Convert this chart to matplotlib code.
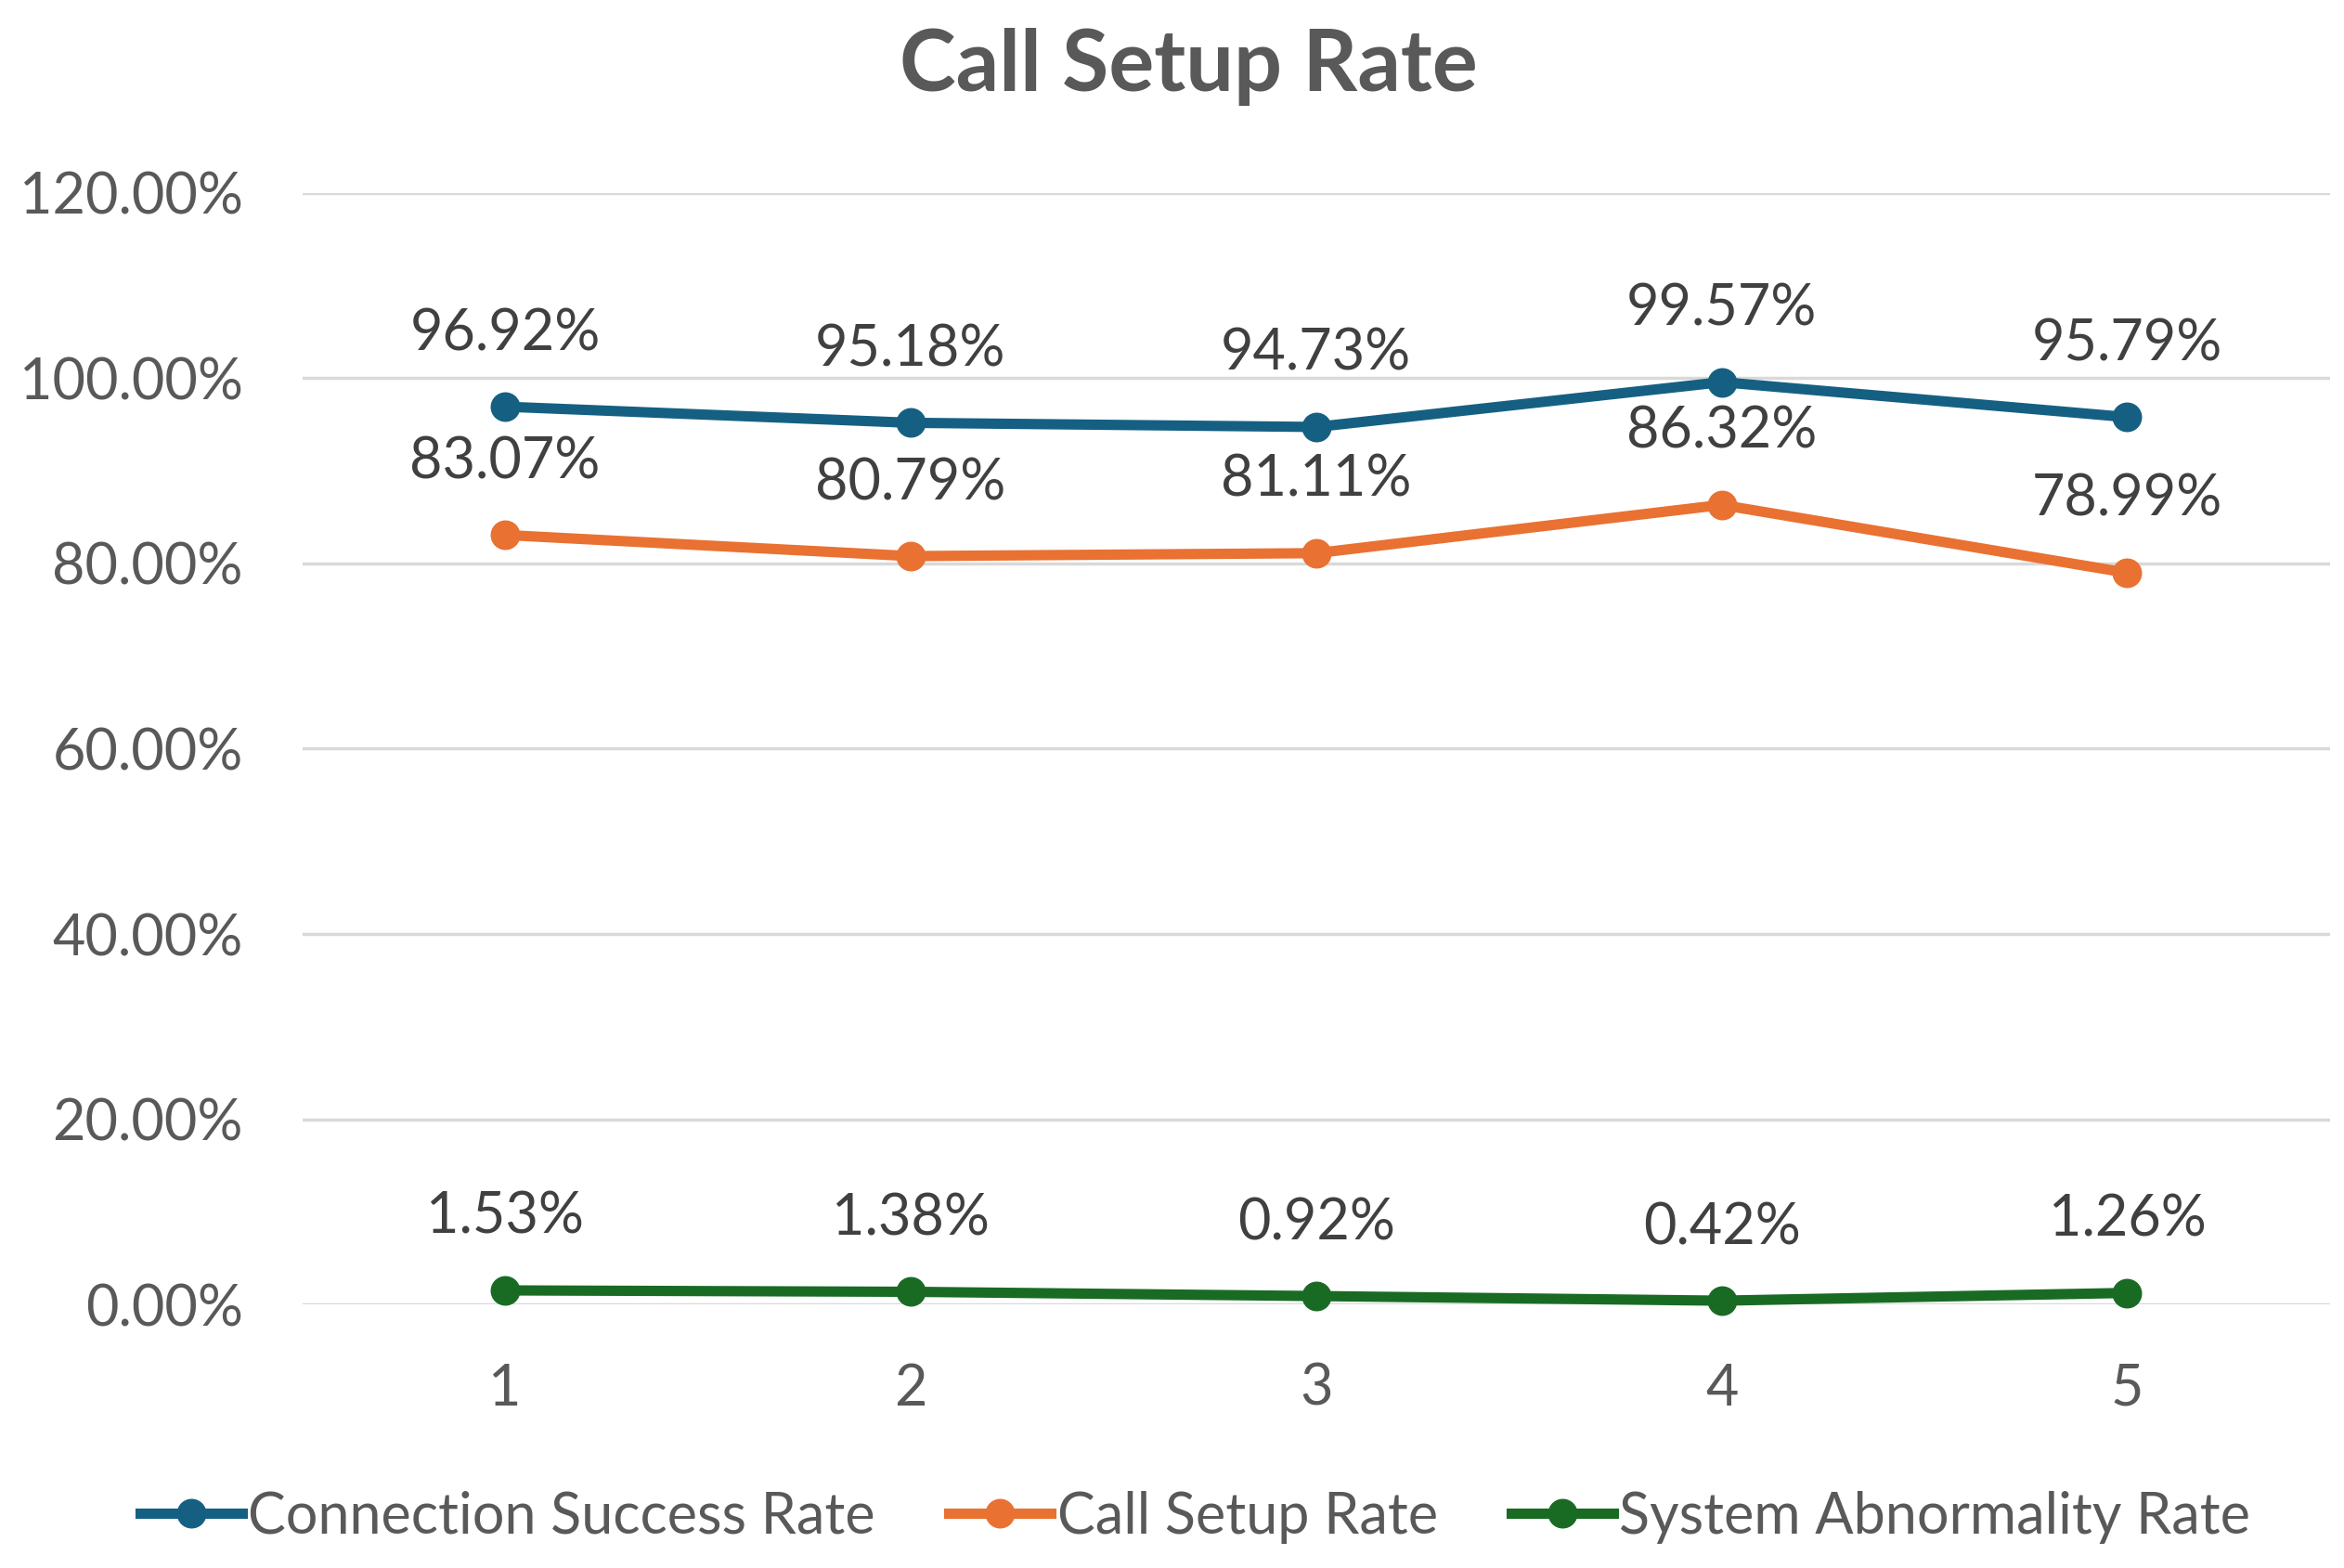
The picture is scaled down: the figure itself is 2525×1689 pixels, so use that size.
import numpy as np
import matplotlib.pyplot as plt
from matplotlib.ticker import PercentFormatter

plt.rcParams['font.family'] = ['Lato', 'DejaVu Sans']

runs = [1, 2, 3, 4, 5]
connection = [96.92, 95.18, 94.73, 99.57, 95.79]
call_setup = [83.07, 80.79, 81.11, 86.32, 78.99]
abnormal = [1.53, 1.38, 0.92, 0.42, 1.26]

series = [
	("Connection Success Rate", connection, "#156082"),
	("Call Setup Rate", call_setup, "#E97132"),
	("System Abnormality Rate", abnormal, "#196B24"),
]

fig = plt.figure(figsize=(25.25, 16.89), dpi=100)
ax = fig.add_axes([0.129, 0.168, 0.865, 0.709])

for name, vals, col in series:
	ax.plot(runs, vals, color=col, lw=8, marker='o', ms=22, label=name, clip_on=False, zorder=3)
	for x, v in zip(runs, vals):
		ax.annotate("%.2f%%" % v, (x, v), xytext=(0, 36), textcoords='offset points',
			ha='center', va='bottom', fontsize=44, color='#404040')

ax.set_xlim(0.5, 5.5)
ax.set_ylim(0, 120)
ax.set_yticks(np.arange(0, 121, 20))
ax.yaxis.set_major_formatter(PercentFormatter(decimals=2))
ax.set_xticks(runs)
ax.grid(axis='y', color='#D9D9D9', lw=2.5)
ax.set_axisbelow(True)
for s in ax.spines.values():
	s.set_visible(False)
ax.tick_params(axis='both', length=0, labelsize=44, labelcolor='#595959')
ax.tick_params(axis='y', pad=46)
ax.tick_params(axis='x', pad=45)

fig.suptitle("Call Setup Rate", x=0.507, fontsize=66, fontweight='bold', color='#595959', y=0.982)
fig.legend(loc='lower center', bbox_to_anchor=(0.51, -0.017), ncol=3, frameon=False,
	fontsize=44, labelcolor='#595959', handlelength=1.8, handletextpad=0.1, columnspacing=1.3)

fig.savefig("out.png")
